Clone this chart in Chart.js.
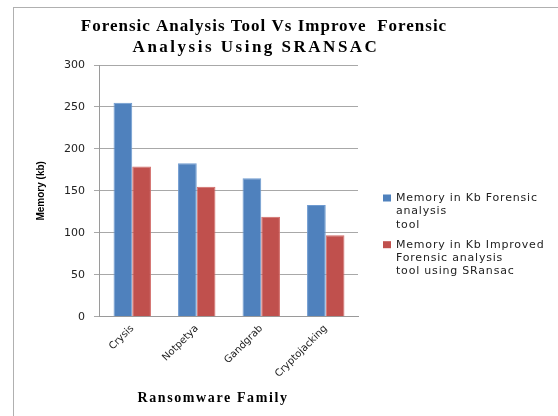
<!DOCTYPE html>
<html>
<head>
<meta charset="utf-8">
<script src="https://cdn.jsdelivr.net/npm/chart.js@4.4.1/dist/chart.umd.min.js"></script>
<style>
  html, body { margin: 0; padding: 0; background: #fff; overflow: hidden; }
  #wrap { position: relative; width: 558px; height: 416px; }
  #frame { position: absolute; left: 13px; top: 7px; width: 600px; height: 500px; border: 1px solid #b0b0b0; }
  canvas { position: absolute; left: 0; top: 0; }
</style>
</head>
<body>
<div id="wrap">
  <div id="frame"></div>
  <canvas id="myChart" width="558" height="416"></canvas>
</div>
<script>
// ransomware families and memory use (kb)
var categories = ['Crysis', 'Notpetya', 'Gandgrab', 'Cryptojacking'];
var forensicTool = [255, 183, 165, 133];
var improvedTool = [179, 155, 119, 97];
var seriesNames = [
  ['Memory in Kb Forensic', 'analysis', 'tool'],
  ['Memory in Kb Improved', 'Forensic analysis', 'tool using SRansac']
];
var titleLines = ['Forensic Analysis Tool Vs Improve  Forensic', 'Analysis Using SRANSAC'];
var xTitle = 'Ransomware Family';
var yTitle = 'Memory (kb)';
var yMin = 0, yMax = 300, yStep = 50;

var blue = '#4F81BD', red = '#C0504D';

// title, x axis title and a multi-line legend drawn by hand
var extras = {
  id: 'extras',
  afterDraw: function(chart) {
    var ctx = chart.ctx;
    var area = chart.chartArea;
    ctx.save();
    ctx.fillStyle = '#000';
    ctx.textAlign = 'center';
    ctx.textBaseline = 'alphabetic';
    ctx.font = 'bold 17px "Liberation Serif"';
    ctx.letterSpacing = '1px';
    ctx.fillText(titleLines[0], 264, 31);
    ctx.letterSpacing = '2.5px';
    ctx.fillText(titleLines[1], 256, 52);

    ctx.font = 'bold 14px "Liberation Serif"';
    ctx.letterSpacing = '1.6px';
    ctx.fillText(xTitle, 213, 402);

    // legend
    var lx = area.right + 25;
    var ly = 198;
    ctx.textAlign = 'left';
    ctx.textBaseline = 'middle';
    ctx.font = '11px "DejaVu Sans"';
    ctx.letterSpacing = '0.8px';
    chart.data.datasets.forEach(function(ds, i) {
      ctx.fillStyle = ds.backgroundColor;
      ctx.fillRect(lx, ly - 3.5, 8, 7);
      ctx.fillStyle = '#222';
      seriesNames[i].forEach(function(line, j) {
        ctx.fillText(line, lx + 13, ly + j * 13.4);
      });
      ly += seriesNames[i].length * 13.4 + 6.5;
    });
    ctx.letterSpacing = '0px';
    ctx.restore();
  }
};

var ctx = document.getElementById('myChart').getContext('2d');
var myChart = new Chart(ctx, {
  type: 'bar',
  data: {
    labels: categories,
    datasets: [{
      label: seriesNames[0].join(' '),
      data: forensicTool,
      backgroundColor: blue,
      borderColor: '#6e9ad0',
      borderWidth: 1
    }, {
      label: seriesNames[1].join(' '),
      data: improvedTool,
      backgroundColor: red,
      borderColor: '#d26a67',
      borderWidth: 1
    }]
  },
  options: {
    responsive: false,
    animation: false,
    layout: { padding: { left: 35, right: 200, top: 65, bottom: 30 } },
    plugins: {
      legend: { display: false },
      title: { display: false },
      tooltip: { enabled: false }
    },
    datasets: {
      bar: { categoryPercentage: 0.58, barPercentage: 1 }
    },
    scales: {
      x: {
        grid: { display: false, drawTicks: false },
        border: { display: true, color: '#9a9a9a' },
        ticks: {
          color: '#222',
          font: { family: 'DejaVu Sans', size: 10 },
          minRotation: 45,
          maxRotation: 45,
          padding: 6
        }
      },
      y: {
        min: yMin,
        max: yMax,
        grid: { color: '#a8a8a8', tickLength: 6 },
        border: { display: true, color: '#9a9a9a' },
        ticks: {
          stepSize: yStep,
          color: '#222',
          font: { family: 'DejaVu Sans', size: 11 },
          padding: 9
        },
        title: {
          display: true,
          text: yTitle,
          color: '#000',
          font: { family: 'Liberation Sans', size: 10, weight: 'bold' },
          padding: { top: 0, bottom: 8 }
        }
      }
    }
  },
  plugins: [extras]
});
</script>
</body>
</html>
